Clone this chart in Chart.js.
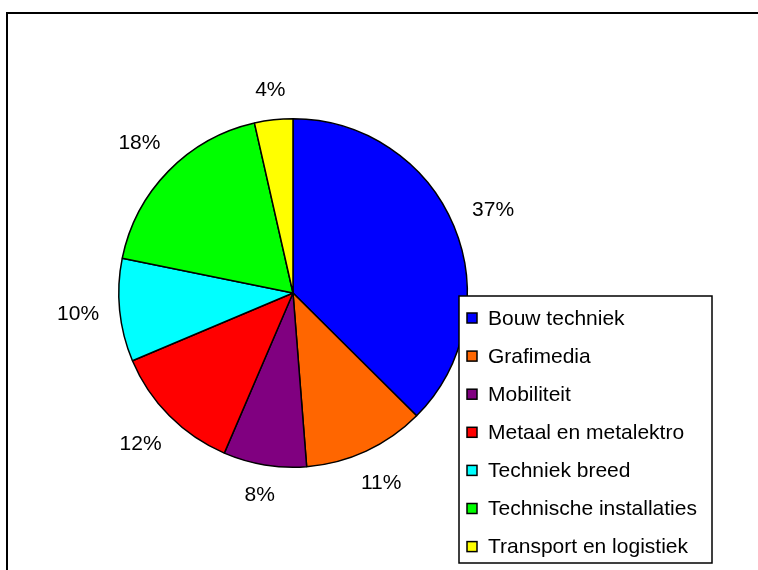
<!DOCTYPE html>
<html>
<head>
<meta charset="utf-8">
<script src="https://cdn.jsdelivr.net/npm/chart.js@4.4.0/dist/chart.umd.min.js"></script>
<style>
  html, body { margin: 0; padding: 0; background: #fff; }
  #wrap { width: 758px; height: 570px; }
</style>
</head>
<body>
<div id="wrap"><canvas id="pieChart" width="758" height="570"></canvas></div>
<script>
// sectors (percent)
const categories = ['Bouw techniek', 'Grafimedia', 'Mobiliteit', 'Metaal en metalektro',
                    'Techniek breed', 'Technische installaties', 'Transport en logistiek'];
const shares = [37.45, 11.3, 7.7, 12.2, 9.55, 18.25, 3.55];
const sliceColors = ['#0000FF', '#FF6600', '#800080', '#FF0000', '#00FFFF', '#00FF00', '#FFFF00'];

const FONT = '21px "Liberation Sans", Arial, sans-serif';

// white background + outer frame (only left and top edges fall inside the picture)
const framePlugin = {
    id: 'frame',
    beforeDraw(chart) {
        const ctx = chart.ctx;
        ctx.save();
        ctx.fillStyle = '#fff';
        ctx.fillRect(0, 0, chart.width, chart.height);
        ctx.strokeStyle = '#000';
        ctx.lineWidth = 2;
        ctx.beginPath();
        ctx.moveTo(7, chart.height);
        ctx.lineTo(7, 13);
        ctx.lineTo(chart.width, 13);
        ctx.stroke();
        ctx.restore();
    }
};

// percentage labels outside each slice
const labelPlugin = {
    id: 'outLabels',
    afterDatasetsDraw(chart) {
        const ctx = chart.ctx;
        const meta = chart.getDatasetMeta(0);
        const total = shares.reduce((a, b) => a + b, 0);
        ctx.save();
        ctx.font = FONT;
        ctx.fillStyle = '#000';
        ctx.textAlign = 'center';
        ctx.textBaseline = 'middle';
        meta.data.forEach((arc, i) => {
            const p = arc.getProps(['x', 'y', 'startAngle', 'endAngle', 'outerRadius'], true);
            const mid = (p.startAngle + p.endAngle) / 2;
            const txt = Math.round(shares[i] / total * 100) + '%';
            const w = ctx.measureText(txt).width;
            const cx = Math.cos(mid), cy = Math.sin(mid);
            const d = p.outerRadius + 20 + Math.abs(cx) * w / 2 + Math.abs(cy) * 8;
            ctx.fillText(txt, p.x + cx * d, p.y + cy * d);
        });
        ctx.restore();
    }
};

// boxed legend at the lower right
const legendPlugin = {
    id: 'boxLegend',
    afterDraw(chart) {
        const ctx = chart.ctx;
        const x0 = 459, y0 = 296, x1 = 712, y1 = 563;
        const rowH = 38.1;
        ctx.save();
        ctx.fillStyle = '#fff';
        ctx.fillRect(x0, y0, x1 - x0, y1 - y0);
        ctx.strokeStyle = '#000';
        ctx.lineWidth = 1.5;
        ctx.strokeRect(x0, y0, x1 - x0, y1 - y0);
        ctx.font = FONT;
        ctx.textBaseline = 'middle';
        categories.forEach((name, i) => {
            const cy = y0 + 22 + i * rowH;
            ctx.fillStyle = sliceColors[i];
            ctx.fillRect(467, cy - 5, 10, 10);
            ctx.lineWidth = 1.5;
            ctx.strokeStyle = '#000';
            ctx.strokeRect(467, cy - 5, 10, 10);
            ctx.fillStyle = '#000';
            ctx.fillText(name, 488, cy + 1);
        });
        ctx.restore();
    }
};

new Chart(document.getElementById('pieChart'), {
    type: 'pie',
    data: {
        labels: categories,
        datasets: [{
            data: shares,
            backgroundColor: sliceColors,
            borderColor: '#000',
            borderWidth: 1.5
        }]
    },
    options: {
        responsive: false,
        animation: false,
        layout: { padding: { left: 118, top: 118, right: 290, bottom: 102 } },
        plugins: {
            legend: { display: false },
            tooltip: { enabled: false }
        }
    },
    plugins: [framePlugin, labelPlugin, legendPlugin]
});
</script>
</body>
</html>
